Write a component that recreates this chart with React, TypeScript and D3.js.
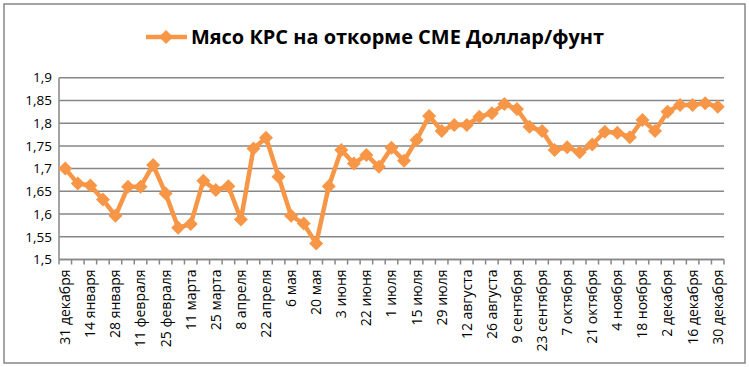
import React from 'react';
import * as d3 from 'd3';

const dates: string[] = [
  '31 декабря', '7 января', '14 января', '21 января', '28 января', '4 февраля',
  '11 февраля', '18 февраля', '25 февраля', '4 марта', '11 марта', '18 марта',
  '25 марта', '1 апреля', '8 апреля', '15 апреля', '22 апреля', '29 апреля',
  '6 мая', '13 мая', '20 мая', '27 мая', '3 июня', '10 июня', '22 июня',
  '24 июня', '1 июля', '8 июля', '15 июля', '22 июля', '29 июля', '5 августа',
  '12 августа', '19 августа', '26 августа', '2 сентября', '9 сентября',
  '16 сентября', '23 сентября', '30 сентября', '7 октября', '14 октября',
  '21 октября', '28 октября', '4 ноября', '11 ноября', '18 ноября',
  '25 ноября', '2 декабря', '9 декабря', '16 декабря', '23 декабря', '30 декабря',
];

const prices: number[] = [
  1.700, 1.667, 1.663, 1.632, 1.596, 1.660, 1.660, 1.708, 1.645, 1.570,
  1.578, 1.673, 1.653, 1.661, 1.588, 1.744, 1.768, 1.682, 1.596, 1.579,
  1.535, 1.661, 1.741, 1.711, 1.730, 1.704, 1.746, 1.717, 1.763, 1.816,
  1.783, 1.796, 1.796, 1.814, 1.822, 1.842, 1.831, 1.792, 1.783, 1.741,
  1.747, 1.736, 1.753, 1.781, 1.779, 1.769, 1.807, 1.783, 1.825, 1.840,
  1.840, 1.844, 1.836,
];

const yTicks: number[] = [1.5, 1.55, 1.6, 1.65, 1.7, 1.75, 1.8, 1.85, 1.9];

const seriesName = 'Мясо КРС на откорме CME Доллар/фунт';

const ORANGE = '#F79646';
const GRID = '#878787';
const FONT = "'Open Sans', 'Liberation Sans', sans-serif";

const App: React.FC = () => {
  const width = 749;
  const height = 367;
  const plot = { left: 59, right: 724, top: 77.7, bottom: 259.5 };

  const x = d3.scaleBand<string>()
    .domain(dates)
    .range([plot.left, plot.right])
    .padding(0);

  const y = d3.scaleLinear()
    .domain([1.5, 1.9])
    .range([plot.bottom, plot.top]);

  const cx = (d: string) => (x(d) || 0) + x.bandwidth() / 2;

  const line = d3.line<number>()
    .x((_, i) => cx(dates[i]))
    .y(v => y(v));

  const diamond = (s: number) => `M0,${-s}L${s},0L0,${s}L${-s},0Z`;

  const fmt = (v: number) => String(+v.toFixed(2)).replace('.', ',');

  return (
    <svg
      width={width}
      height={height}
      style={{ position: 'absolute', left: 0, top: 0, background: '#fff' }}
      fontFamily={FONT}
    >
      <rect x={4} y={4} width={741} height={359} fill="#fff" stroke={GRID} strokeWidth={1.5} />

      {/* legend / title */}
      <line x1={146} x2={187} y1={37} y2={37} stroke={ORANGE} strokeWidth={4.5} />
      <path d={diamond(7)} transform="translate(166,37)" fill={ORANGE} />
      <text
        x={191}
        y={44}
        fontSize={19}
        fontWeight="bold"
        fill="#000"
        textLength={413}
        lengthAdjust="spacingAndGlyphs"
      >
        {seriesName}
      </text>

      {/* grid */}
      {yTicks.map(t => (
        <line key={t} x1={plot.left} x2={plot.right} y1={y(t)} y2={y(t)} stroke={GRID} strokeWidth={1.5} />
      ))}
      {yTicks.map(t => (
        <text key={'l' + t} x={52} y={y(t)} dy="0.35em" textAnchor="end" fontSize={13.5} fill="#000">
          {fmt(t)}
        </text>
      ))}

      {/* axes */}
      <line x1={plot.left} x2={plot.left} y1={plot.top} y2={plot.bottom} stroke={GRID} strokeWidth={1.5} />
      <line x1={plot.left} x2={plot.right} y1={plot.bottom} y2={plot.bottom} stroke={GRID} strokeWidth={1.5} />
      {[...dates.map(d => x(d) || 0), plot.right].map((tx, i) => (
        <line key={'t' + i} x1={tx} x2={tx} y1={plot.bottom} y2={plot.bottom + 5} stroke={GRID} strokeWidth={1.5} />
      ))}
      {dates.map((d, i) => i % 2 === 0 ? (
        <text
          key={'x' + i}
          transform={`translate(${cx(d)},${plot.bottom + 10}) rotate(-90)`}
          dy="0.35em"
          textAnchor="end"
          fontSize={14}
          fill="#000"
        >
          {d}
        </text>
      ) : null)}

      {/* series */}
      <path d={line(prices) || ''} fill="none" stroke={ORANGE} strokeWidth={4.5} strokeLinejoin="round" />
      {prices.map((v, i) => (
        <path key={'m' + i} d={diamond(7)} transform={`translate(${cx(dates[i])},${y(v)})`} fill={ORANGE} />
      ))}
    </svg>
  );
};

export default App;
